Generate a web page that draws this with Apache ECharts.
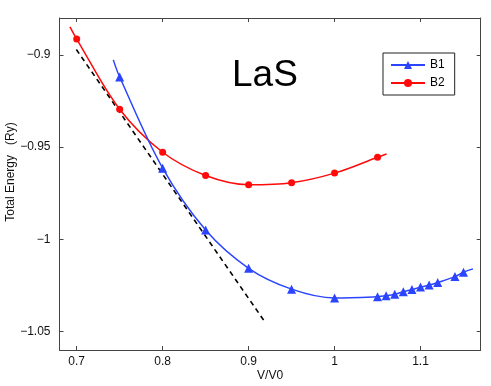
<!DOCTYPE html>
<html lang="en">
<head>
    <meta charset="UTF-8">
    <title>LaS</title>
    <script src="https://cdn.jsdelivr.net/npm/echarts@6/dist/echarts.min.js"></script>
    <style>
        html, body { margin: 0; padding: 0; background: #fff; }
        #paint { width: 491px; height: 386px; }
    </style>
</head>
<body>
<div id="paint"></div>
<script type="text/javascript">
    // values
    var volumes = [0.7, 0.75, 0.8, 0.85, 0.9, 0.95, 1.0, 1.05];
    var b2Energy = [-0.8914, -0.9295, -0.9528, -0.9654, -0.9704, -0.9693, -0.9641, -0.9555];
    var b2FitStart = [0.6922, -0.8848];
    var b2FitEnd = [1.0605, -0.9537];

    var b1Volumes = [0.75, 0.8, 0.85, 0.9, 0.95, 1.0, 1.05, 1.06, 1.07, 1.08, 1.09, 1.1, 1.11, 1.12, 1.14, 1.15];
    var b1Energy = [-0.912, -0.9614, -0.995, -1.0157, -1.027, -1.0318, -1.0311, -1.0306, -1.0298, -1.0284, -1.0272, -1.0259, -1.0248, -1.0234, -1.0202, -1.0178];
    var b1FitStart = [0.7426, -0.9027];
    var b1FitEnd = [1.161, -1.016];

    var tangent = [[0.6996, -0.8971], [0.920, -1.0455]];

    var xTicks = [0.7, 0.8, 0.9, 1, 1.1];
    var yTicks = [-1.05, -1, -0.95, -0.9];

    var blue = '#2b45ff';
    var red = '#ff0a0a';
    var font = 'Liberation Sans, Arial, sans-serif';

    function withFit(xs, ys, start, end) {
        var out = [{ value: start, symbol: 'none' }];
        for (var i = 0; i < xs.length; i++) out.push([xs[i], ys[i]]);
        out.push({ value: end, symbol: 'none' });
        return out;
    }
    function minus(v) { return String(v).replace('-', '\u2212'); }

    var frame = { show: true, onZero: false, lineStyle: { color: '#444', width: 1 } };
    var tickIn = { show: true, inside: true, length: 4, lineStyle: { color: '#444' } };

    var myChart = echarts.init(document.getElementById('paint'));
    var option = {
        animation: false,
        title: {
            text: 'LaS', left: 232, top: 57, padding: 0,
            textStyle: { fontSize: 37, fontWeight: 'normal', fontFamily: font, color: '#000' }
        },
        legend: {
            orient: 'vertical', left: 383, top: 53,
            backgroundColor: '#fff', borderColor: '#222', borderWidth: 1, borderRadius: 0,
            padding: [6, 10, 6, 7], itemWidth: 34, itemHeight: 10, itemGap: 6,
            textStyle: { fontSize: 12, fontFamily: font, color: '#000' },
            data: ['B1', 'B2']
        },
        grid: { left: 59.5, top: 18, right: 10.3, bottom: 36, containLabel: false, outerBoundsMode: 'none' },
        xAxis: [{
            type: 'value', min: 0.68, max: 1.17,
            name: 'V/V0', nameLocation: 'middle', nameGap: 20, nameMoveOverlap: false,
            nameTextStyle: { fontSize: 12, fontFamily: font, color: '#111' },
            axisLine: frame,
            axisTick: Object.assign({ customValues: xTicks }, tickIn),
            axisLabel: { customValues: xTicks, fontSize: 12, fontFamily: font, color: '#111', margin: 6 },
            splitLine: { show: false }
        }, {
            type: 'value', position: 'top', min: 0.68, max: 1.17,
            axisLine: frame,
            axisTick: Object.assign({ customValues: xTicks }, tickIn),
            axisLabel: { show: false },
            splitLine: { show: false }
        }],
        yAxis: [{
            type: 'value', min: -1.06, max: -0.88,
            name: 'Total Energy   (Ry)', nameLocation: 'middle', nameGap: 43, nameMoveOverlap: false,
            nameTextStyle: { fontSize: 12, fontFamily: font, color: '#111', padding: [0, 0, 0, 24] },
            axisLine: frame,
            axisTick: Object.assign({ customValues: yTicks }, tickIn),
            axisLabel: { customValues: yTicks, fontSize: 12, fontFamily: font, color: '#111', margin: 9, formatter: minus },
            splitLine: { show: false }
        }, {
            type: 'value', position: 'right', min: -1.06, max: -0.88,
            axisLine: frame,
            axisTick: Object.assign({ customValues: yTicks }, tickIn),
            axisLabel: { show: false },
            splitLine: { show: false }
        }],
        series: [{
            name: 'tangent', type: 'line', data: tangent, symbol: 'none',
            lineStyle: { color: '#000', width: 1.6, type: [5, 4] }, z: 1
        }, {
            name: 'B1', type: 'line', data: withFit(b1Volumes, b1Energy, b1FitStart, b1FitEnd),
            smooth: 0.35, symbol: 'triangle', symbolSize: 9,
            itemStyle: { color: blue }, lineStyle: { color: blue, width: 1.5 }, z: 3
        }, {
            name: 'B2', type: 'line', data: withFit(volumes, b2Energy, b2FitStart, b2FitEnd),
            smooth: 0.35, symbol: 'circle', symbolSize: 7,
            itemStyle: { color: red }, lineStyle: { color: red, width: 1.5 }, z: 2
        }]
    };
    myChart.setOption(option);
</script>
</body>
</html>
